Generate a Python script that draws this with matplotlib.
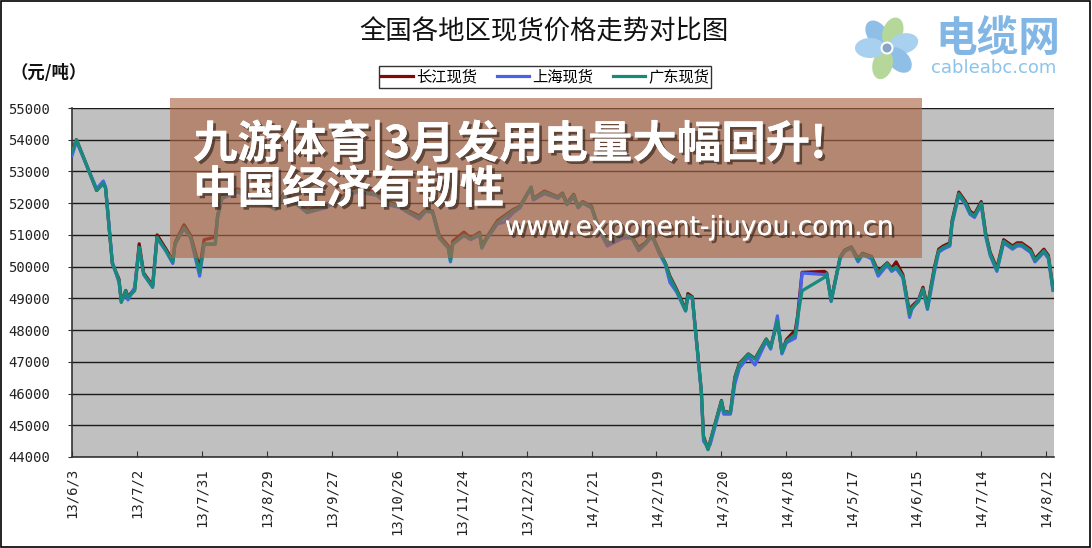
import matplotlib
matplotlib.use('Agg')
import matplotlib.pyplot as plt
import matplotlib.dates as mdates
import matplotlib.patheffects as pe
from matplotlib.patches import Rectangle, Ellipse, Circle
import pandas as pd
import math

plt.rcParams['font.family'] = ['Noto Sans CJK SC', 'DejaVu Sans']

dates = ['2013-06-03', '2013-06-05', '2013-06-14', '2013-06-17', '2013-06-18', '2013-06-21',
         '2013-06-24', '2013-06-25', '2013-06-27', '2013-06-28', '2013-07-01', '2013-07-03',
         '2013-07-05', '2013-07-09', '2013-07-11', '2013-07-15', '2013-07-18', '2013-07-19',
         '2013-07-23', '2013-07-26', '2013-07-30', '2013-08-01', '2013-08-06', '2013-08-07',
         '2013-08-09', '2013-08-16', '2013-08-26', '2013-09-02', '2013-09-06', '2013-09-16',
         '2013-09-24', '2013-10-08', '2013-10-17', '2013-10-22', '2013-10-28', '2013-10-30',
         '2013-11-05', '2013-11-08', '2013-11-11', '2013-11-14', '2013-11-18', '2013-11-19',
         '2013-11-20', '2013-11-25', '2013-11-28', '2013-12-02', '2013-12-03', '2013-12-05',
         '2013-12-10', '2013-12-13', '2013-12-17', '2013-12-20', '2013-12-25', '2013-12-26',
         '2013-12-31', '2014-01-06', '2014-01-08', '2014-01-10', '2014-01-13', '2014-01-15',
         '2014-01-17', '2014-01-21', '2014-01-24', '2014-01-28', '2014-02-04', '2014-02-08',
         '2014-02-11', '2014-02-14', '2014-02-17', '2014-02-20', '2014-02-23', '2014-02-25',
         '2014-02-28', '2014-03-04', '2014-03-05', '2014-03-07', '2014-03-11', '2014-03-12',
         '2014-03-14', '2014-03-15', '2014-03-20', '2014-03-21', '2014-03-24', '2014-03-26',
         '2014-03-28', '2014-04-01', '2014-04-04', '2014-04-09', '2014-04-11', '2014-04-14',
         '2014-04-16', '2014-04-18', '2014-04-22', '2014-04-23', '2014-04-25', '2014-05-05',
         '2014-05-06', '2014-05-08', '2014-05-12', '2014-05-14', '2014-05-17', '2014-05-20',
         '2014-05-22', '2014-05-26', '2014-05-29', '2014-06-02', '2014-06-04', '2014-06-06',
         '2014-06-09', '2014-06-12', '2014-06-13', '2014-06-16', '2014-06-18', '2014-06-20',
         '2014-06-23', '2014-06-25', '2014-06-27', '2014-06-30', '2014-07-01', '2014-07-03',
         '2014-07-04', '2014-07-07', '2014-07-09', '2014-07-11', '2014-07-14', '2014-07-16',
         '2014-07-18', '2014-07-21', '2014-07-23', '2014-07-24', '2014-07-28', '2014-07-30',
         '2014-08-01', '2014-08-05', '2014-08-07', '2014-08-11', '2014-08-13', '2014-08-15']

# 广东现货
guangdong = [53600, 54000, 52400, 52620, 52460, 50100, 49560, 48870, 49240, 49030, 49240, 50610,
             49770, 49350, 50930, 50500, 50140, 50720, 51240, 50930, 49820, 50720, 50720, 51560,
             52190, 52400, 52100, 51800, 52300, 51720, 51900, 52400, 52300, 52000, 51880, 51770,
             51560, 51770, 51720, 50930, 50610, 50190, 50720, 51000, 50880, 51040, 50610, 50880,
             51400, 51560, 51770, 51880, 52510, 52140, 52350, 52190, 52300, 51980, 52250, 51880,
             52030, 51880, 51240, 50770, 50980, 50930, 50560, 50720, 50980, 50500, 50090, 49660,
             49240, 48610, 49090, 49030, 46080, 44600, 44230, 44490, 45760, 45440, 45390, 46500,
             46920, 47240, 47080, 47710, 47450, 48290, 47290, 47660, 47870, 48400, 49240, 49660,
             49770, 48920, 50290, 50500, 50600, 50200, 50400, 50300, 49800, 50100, 49900, 50000,
             49700, 48500, 48700, 48900, 49300, 48700, 49900, 50500, 50600, 50700, 51400, 52000,
             52300, 52000, 51700, 51600, 52000, 51000, 50400, 49900, 50500, 50800, 50600, 50700,
             50700, 50500, 50200, 50500, 50300, 49300]

# 长江现货
changjiang = [53650, 54000, 52400, 52650, 52480, 50100, 49600, 48900, 49250, 49050, 49300, 50720,
              49800, 49400, 51000, 50550, 50200, 50750, 51320, 50980, 49950, 50850, 50930, 51600,
              52250, 52450, 52150, 51850, 52350, 51750, 51950, 52450, 52350, 52050, 51900, 51800,
              51600, 51800, 51750, 50980, 50650, 50250, 50800, 51090, 50900, 51080, 50650, 50900,
              51450, 51600, 51800, 51900, 52500, 52150, 52380, 52200, 52320, 52000, 52280, 51900,
              52050, 51900, 51250, 50700, 50950, 50950, 50600, 50750, 51000, 50520, 50100, 49700,
              49280, 48650, 49150, 49050, 46100, 44650, 44250, 44500, 45780, 45450, 45400, 46520,
              46950, 47250, 47100, 47720, 47480, 48300, 47300, 47700, 48000, 48450, 49820, 49850,
              49800, 48950, 50300, 50520, 50620, 50250, 50420, 50320, 49850, 50120, 49950, 50150,
              49750, 48550, 48750, 48950, 49350, 48750, 49950, 50550, 50650, 50750, 51450, 52050,
              52350, 52050, 51750, 51650, 52050, 51050, 50450, 49950, 50550, 50850, 50650, 50750,
              50750, 50550, 50250, 50550, 50350, 49350]

# 上海现货
shanghai = [53500, 53950, 52450, 52700, 52500, 50150, 49500, 48950, 49100, 48950, 49350, 50600,
            49750, 49350, 50900, 50480, 50100, 50700, 51200, 50900, 49700, 50700, 50700, 51550,
            52150, 52350, 52050, 51800, 52250, 51700, 51850, 52350, 52250, 51950, 51850, 51750,
            51500, 51750, 51700, 50900, 50580, 50150, 50700, 50980, 50850, 51000, 50580, 50850,
            51350, 51400, 51700, 51850, 52480, 52100, 52300, 52150, 52280, 51950, 52200, 51850,
            52000, 51850, 51200, 50650, 50900, 50900, 50500, 50700, 50950, 50450, 50050, 49500,
            49200, 48600, 49050, 49000, 46050, 44500, 44300, 44400, 45700, 45350, 45350, 46300,
            46800, 47150, 46900, 47650, 47400, 48450, 47250, 47600, 47750, 48250, 49800, 49750,
            49770, 48900, 50250, 50480, 50580, 50150, 50380, 50250, 49700, 50050, 49850, 49950,
            49650, 48400, 48650, 48950, 49250, 48650, 49800, 50450, 50550, 50650, 51350, 51950,
            52250, 51950, 51650, 51550, 51950, 50950, 50350, 49850, 50450, 50750, 50550, 50650,
            50650, 50450, 50150, 50450, 50250, 49250]

series_names = ['长江现货', '上海现货', '广东现货']
y_ticks = list(range(44000, 55001, 1000))

W, H = 1092, 548


def fx(px):
    return px / W


def fy(py):
    return 1 - py / H


d = pd.to_datetime(dates)
start = pd.Timestamp('2013-06-03')
tick_dates = [start + pd.Timedelta(days=29 * i) for i in range(16)]
tick_labels = ['%d/%d/%d' % (t.year % 100, t.month, t.day) for t in tick_dates]

fig = plt.figure(figsize=(W / 100, H / 100), dpi=100)
fig.patch.set_facecolor('white')
fig.patches.append(Rectangle((0.0005, 0.001), 0.998, 0.997, transform=fig.transFigure,
                             fill=False, edgecolor='black', linewidth=1.2))

ax = fig.add_axes([fx(72), fy(457), fx(1054) - fx(72), fy(108) - fy(457)])
ax.set_facecolor('#c0c0c0')

l1, = ax.plot(d, changjiang, color='#7f0a0a', linewidth=2.3, label=series_names[0], zorder=3)
l2, = ax.plot(d, shanghai, color='#4a63e6', linewidth=2.3, label=series_names[1], zorder=4)
l3, = ax.plot(d, guangdong, color='#178a7c', linewidth=2.3, label=series_names[2], zorder=5)

ax.set_ylim(44000, 55000)
ax.set_yticks(y_ticks)
ax.set_yticklabels([str(v) for v in y_ticks], family='DejaVu Sans Mono', fontsize=10, color='#222222')
ax.set_xlim(mdates.date2num(start), mdates.date2num(start) + 438.5)
ax.set_xticks(mdates.date2num(tick_dates))
ax.set_xticklabels(tick_labels, rotation=90, family='DejaVu Sans Mono', fontsize=10, color='#222222')
ax.tick_params(axis='x', direction='in', length=4, pad=8, color='#333333')
ax.tick_params(axis='y', direction='out', length=3, pad=13, color='#333333')
ax.grid(axis='y', color='#1a1a1a', linewidth=1.0)
ax.grid(axis='x', visible=False)
ax.set_axisbelow(True)
for s in ['top', 'right']:
    ax.spines[s].set_visible(False)
for s in ['left', 'bottom']:
    ax.spines[s].set_color('#333333')
    ax.spines[s].set_linewidth(1.2)

fig.text(fx(544), fy(32), '全国各地区现货价格走势对比图', ha='center', va='center',
         fontsize=19, color='#111111')
fig.text(fx(10), fy(73), '（元/吨）', ha='left', va='center', fontsize=12.5,
         fontweight='bold', color='#111111')

leg = fig.legend(handles=[l1, l2, l3], loc='center', bbox_to_anchor=(fx(545), fy(77)),
                 ncol=3, frameon=True, fancybox=False, fontsize=11, handlelength=2.1,
                 handletextpad=0.2, columnspacing=1.3, borderpad=0.15, borderaxespad=0)
leg.get_frame().set_edgecolor('black')
leg.get_frame().set_linewidth(1.0)

# watermark overlay
fig.patches.append(Rectangle((fx(170), fy(258)), fx(922) - fx(170), fy(98) - fy(258),
                             transform=fig.transFigure, facecolor='#ad6645', alpha=0.63,
                             edgecolor='none', zorder=5))
shadow = [pe.withSimplePatchShadow(offset=(2, -2), shadow_rgbFace='#3a2a20', alpha=0.7), pe.Normal()]
fig.text(fx(193), fy(145), '九游体育|3月发用电量大幅回升!', ha='left', va='center',
         fontsize=32, fontweight='bold', color='white', zorder=6, path_effects=shadow)
fig.text(fx(193), fy(190), '中国经济有韧性', ha='left', va='center',
         fontsize=32, fontweight='bold', color='white', zorder=6, path_effects=shadow)
fig.text(fx(895), fy(228), 'www.exponent-jiuyou.com.cn', ha='right', va='center',
         family='DejaVu Sans', fontsize=19, color='white', zorder=6, path_effects=shadow)

# logo
lax = fig.add_axes([fx(845), fy(82), fx(935) - fx(845), fy(10) - fy(82)])
lax.set_xlim(0, 90)
lax.set_ylim(0, 72)
lax.axis('off')
cx, cy = 42, 34
petals = [(125, '#8fbfe6'), (70, '#b5d89a'), (15, '#a8d0ef'), (-45, '#8fbfe6'),
          (-105, '#b5d89a'), (180, '#a8d0ef')]
for ang, col in petals:
    px = cx + 17 * math.cos(math.radians(ang))
    py = cy + 17 * math.sin(math.radians(ang))
    lax.add_patch(Ellipse((px, py), 30, 20, angle=ang, facecolor=col, edgecolor='none'))
lax.add_patch(Circle((cx, cy), 6.5, facecolor='white', edgecolor='none'))
lax.add_patch(Circle((cx, cy), 4.5, facecolor='#8aa4c8', edgecolor='none'))
fig.text(fx(998), fy(39), '电缆网', ha='center', va='center', fontsize=30,
         fontweight='bold', color='#82b6e4')
fig.text(fx(994), fy(68), 'cableabc.com', ha='center', va='center', family='DejaVu Sans',
         fontsize=13, color='#8cc3ea')

fig.savefig('out.png', dpi=100)
